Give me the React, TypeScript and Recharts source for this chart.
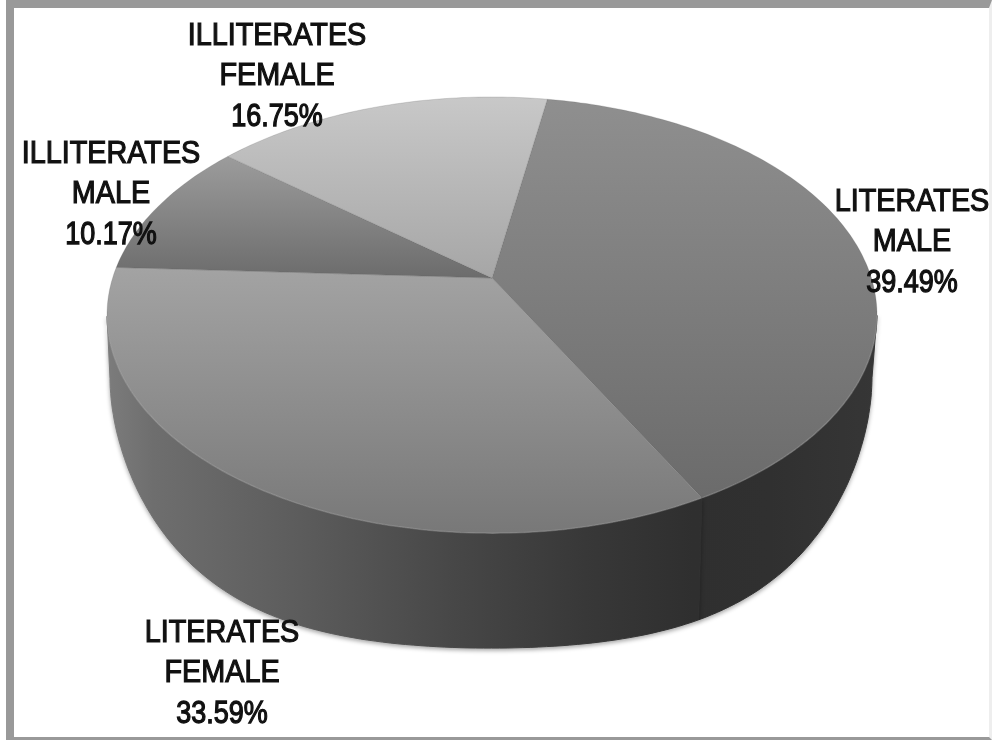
import React from "react";
import { PieChart, Pie } from "recharts";

const categories = ["LITERATES MALE", "LITERATES FEMALE", "ILLITERATES MALE", "ILLITERATES FEMALE"];
const shares = [39.49, 33.59, 10.17, 16.75];
const labelLines = [["LITERATES", "MALE"], ["LITERATES", "FEMALE"], ["ILLITERATES", "MALE"], ["ILLITERATES", "FEMALE"]];
const topGradients = [["#8f8f8f", "#6b6b6b"], ["#a3a3a3", "#787878"], ["#9c9c9c", "#6c6c6c"], ["#c8c8c8", "#a6a6a6"]];
const wallStops: [number, string][] = [
  [0, "#7c7c7c"], [0.06, "#6e6e6e"], [0.25, "#5c5c5c"], [0.45, "#474747"],
  [0.62, "#383838"], [0.76, "#2f2f2f"], [0.86, "#303030"], [1, "#363636"],
];
const labelAnchors = [[912, 211], [222, 642], [111, 163], [277, 45]];

const data = categories.map((name, i) => ({ name, value: shares[i], index: i }));

const K = 0.17;
const A_RATIO = 379.4 / 385;
const B_RATIO = 211.8 / 385;
const TOP_CENTER_SHIFT = 37;
const TOP_RY = 218;
const FLOOR_CENTER_SHIFT = 99;
const FLOOR_RY = 271;
const FLOOR_X_SCALE = 381 / 385;
const FLOOR_X_SHIFT = -1;

function rim(cx: number, cy: number, r: number, deg: number) {
  const u = Math.cos((deg * Math.PI) / 180);
  const v = Math.sin((deg * Math.PI) / 180);
  const w = 1 + K * v;
  return { x: cx + (A_RATIO * r * u) / w, y: cy - (B_RATIO * r * v) / w, v };
}

function floorPoint(cx: number, cy: number, r: number, deg: number) {
  const p = rim(cx, cy, r, deg);
  const a = Math.max(0, (p.y - (cy + TOP_CENTER_SHIFT)) / TOP_RY);
  const f = a + 0.5 * a * a * (1 - a);
  return {
    x: cx + FLOOR_X_SHIFT + (p.x - cx) * FLOOR_X_SCALE,
    y: cy + FLOOR_CENTER_SHIFT + FLOOR_RY * f,
  };
}

function PerspectiveSector(props: any) {
  const { cx, cy, outerRadius, startAngle, endAngle, index } = props;
  const steps = Math.max(8, Math.round(Math.abs(endAngle - startAngle)));
  const angles = Array.from({ length: steps + 1 }, (_, i) => startAngle + ((endAngle - startAngle) * i) / steps);
  const points = angles.map((a) => rim(cx, cy, outerRadius, a));
  const top =
    `M${cx},${cy}` + points.map((p) => `L${p.x.toFixed(1)},${p.y.toFixed(1)}`).join("") + "Z";
  const front = angles.filter((a) => rim(cx, cy, outerRadius, a).v <= -K + 0.001);
  let wall = "";
  let edge = "";
  if (front.length > 1) {
    const upper = front.map((a) => rim(cx, cy, outerRadius, a));
    const lower = front.map((a) => floorPoint(cx, cy, outerRadius, a)).reverse();
    wall = "M" + [...upper, ...lower].map((p) => `${p.x.toFixed(1)},${p.y.toFixed(1)}`).join("L") + "Z";
    edge = "M" + upper.map((p) => `${p.x.toFixed(1)},${p.y.toFixed(1)}`).join("L");
  }
  return (
    <g>
      {wall && (
        <path
          d={wall}
          fill="url(#wallFill)"
          stroke="url(#wallFill)"
          strokeWidth={1}
          style={{ filter: "drop-shadow(0 2px 2px rgba(0,0,0,0.35))" }}
        />
      )}
      <path d={top} fill={`url(#top${index})`} stroke="rgba(90,90,90,0.25)" strokeWidth={0.8} />
      {edge && <path d={edge} fill="none" stroke="rgba(200,200,200,0.25)" strokeWidth={1.5} />}
    </g>
  );
}

function MultiLineLabel(props: any) {
  const { index } = props;
  const [x, y] = labelAnchors[index];
  const rows = [...labelLines[index], `${shares[index].toFixed(2)}%`];
  return (
    <g style={{ filter: "blur(0.5px)" }}>
      {rows.map((row, i) => (
        <text
          key={row}
          transform={`translate(${x},${y + i * 40.3}) scale(1,${i === 2 ? 1.16 : 1.09})`}
          textAnchor="middle"
          fontFamily="'Liberation Sans', Arial, sans-serif"
          fontSize={i === 2 ? 27 : 28.8}
          fill="#111"
          stroke="#111"
          strokeWidth={1.1}
        >
          {row}
        </text>
      ))}
    </g>
  );
}

export default function App() {
  return (
    <div style={{ position: "absolute", left: 0, top: 0, width: 992, height: 740, background: "#fff", overflow: "hidden" }}>
      <div
        style={{
          position: "absolute", left: 6, top: 0, width: 986, height: 740, boxSizing: "border-box",
          borderStyle: "solid", borderColor: "#999 #eeeeee #999 #999", borderWidth: "8px 3px 3px 8px",
        }}
      />
      <div style={{ position: "absolute", left: 0, top: 0 }}>
        <PieChart width={992} height={740} margin={{ top: 0, right: 0, bottom: 0, left: 0 }}>
          <defs>
            {topGradients.map((g, i) => (
              <linearGradient key={i} id={`top${i}`} x1="0" y1="0" x2="0" y2="1">
                <stop offset="0" stopColor={g[0]} />
                <stop offset="1" stopColor={g[1]} />
              </linearGradient>
            ))}
            <linearGradient id="wallFill" gradientUnits="userSpaceOnUse" x1="107" y1="0" x2="878" y2="0">
              {wallStops.map(([o, c]) => (
                <stop key={o} offset={o} stopColor={c} />
              ))}
            </linearGradient>
          </defs>
          <Pie
            data={data}
            dataKey="value"
            nameKey="name"
            cx={492}
            cy={278}
            innerRadius={0}
            outerRadius={385}
            startAngle={80.2}
            endAngle={-279.8}
            stroke="none"
            isAnimationActive={false}
            labelLine={false}
            label={MultiLineLabel}
            shape={PerspectiveSector}
          />
        </PieChart>
      </div>
    </div>
  );
}
